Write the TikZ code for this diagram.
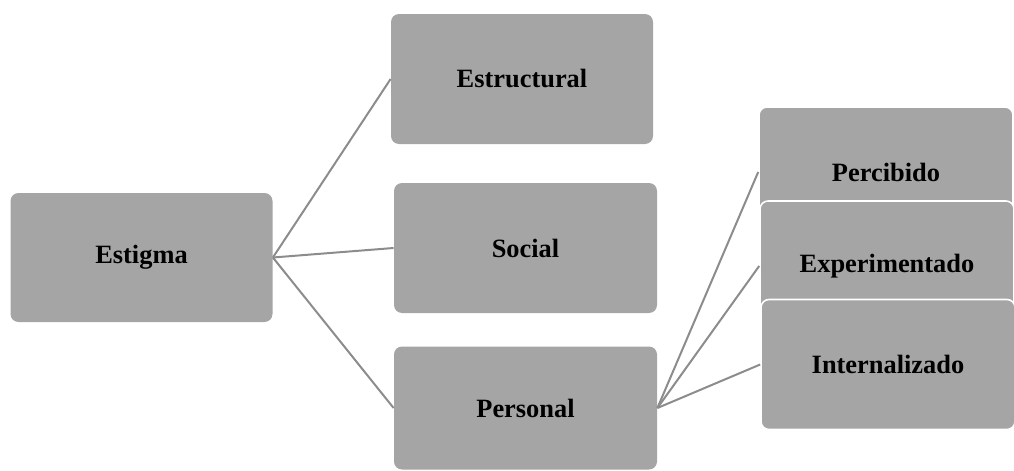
\documentclass[tikz,border=0pt]{standalone}
\usepackage{fontspec}
\setmainfont{Liberation Serif}
\usepackage{tikz}
\usetikzlibrary{positioning}
\definecolor{boxgray}{RGB}{165,165,165}
\definecolor{linegray}{RGB}{140,140,140}
\tikzset{
  box/.style={fill=boxgray, rounded corners=4pt, inner sep=0pt, minimum width=131pt, minimum height=65pt, font=\fontsize{13.2}{15}\selectfont\bfseries},
  subbox/.style={box, draw=white, line width=0.8pt, minimum width=127pt},
  link/.style={draw=linegray, line width=1pt}
}

\begin{document}
\begin{tikzpicture}[x=0.5pt, y=-0.5pt]
    \useasboundingbox (0,0) rectangle (1014,471);
    % first level
    \node[box, minimum height=64.5pt] (estigma) at (141.5,257.5) {Estigma};
    % second level
    \node[box] (estructural) at (522,79) {Estructural};
    \node[box, minimum width=131.5pt] (social) at (525.5,248) {Social};
    \node[box, minimum width=131.5pt, minimum height=61.5pt] (personal) at (525.5,408) {Personal};
    % third level, stacked
    \node[subbox] (percibido) at (886,172) {Percibido};
    \node[subbox] (experimentado) at (887,266) {Experimentado};
    \node[subbox] (internalizado) at (888,364.5) {Internalizado};

    \draw[link] (estigma.east) -- (estructural.west);
    \draw[link] (estigma.east) -- (social.west);
    \draw[link] (estigma.east) -- (personal.west);
    \draw[link] (personal.east) -- (percibido.west);
    \draw[link] (personal.east) -- (experimentado.west);
    \draw[link] (personal.east) -- (internalizado.west);
\end{tikzpicture}
\end{document}
